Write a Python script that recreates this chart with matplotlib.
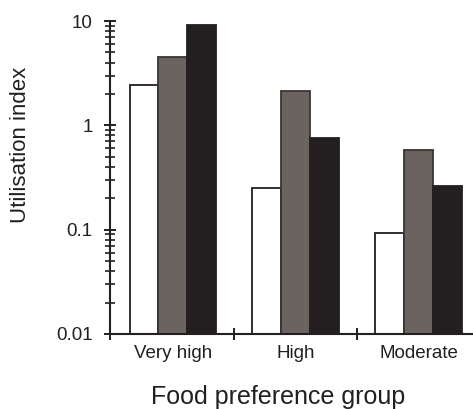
import numpy as np
import matplotlib
matplotlib.use("Agg")
import matplotlib.pyplot as plt
from matplotlib.ticker import LogLocator, NullFormatter

plt.rcParams['font.family'] = ['Liberation Sans', 'DejaVu Sans']

groups = ["Very high", "High", "Moderate"]
white_vals = [2.44, 0.253, 0.092]
grey_vals = [4.5, 2.14, 0.577]
black_vals = [9.2, 0.76, 0.264]

series = [white_vals, grey_vals, black_vals]
colours = ["white", "#6b6360", "#231f20"]
edges = ["#231f20", "#3a3433", "#231f20"]

fig = plt.figure(figsize=(4.73, 4.09), dpi=100)
ax = fig.add_axes([110/473, 1-334/409, (473-110)/473, (334-21)/409])

x = np.arange(len(groups))
w = 0.236
for i, vals in enumerate(series):
    ax.bar(x + (i-1)*w, vals, w, color=colours[i], edgecolor=edges[i],
           linewidth=1.3, zorder=2)

ax.set_yscale('log')
ax.set_ylim(0.01, 10)
ax.set_xlim(-0.513, 2.444)

ax.yaxis.set_minor_locator(LogLocator(base=10, subs=np.arange(2, 10), numticks=10))
ax.yaxis.set_minor_formatter(NullFormatter())
ax.set_yticks([0.01, 0.1, 1, 10])
ax.set_yticklabels(["0.01", "0.1", "1", "10"])

ax.set_xticks([-0.513, 0.5, 1.5])
ax.set_xticklabels(["", "", ""])
ax.set_xticks(x, minor=True)
ax.set_xticklabels(groups, minor=True)

for s in ['top', 'right']:
    ax.spines[s].set_visible(False)
for s in ['left', 'bottom']:
    ax.spines[s].set_linewidth(1.5)
    ax.spines[s].set_color('#231f20')

ax.tick_params(axis='y', which='major', direction='inout', length=9, width=1.4,
               labelsize=13.5, pad=8, colors='#231f20', labelcolor='#231f20')
ax.tick_params(axis='y', which='minor', direction='inout', length=7.5, width=1.2,
               colors='#231f20')
ax.tick_params(axis='x', which='major', direction='inout', length=9, width=1.4,
               colors='#231f20')
ax.tick_params(axis='x', which='minor', length=0, labelsize=13.5, pad=8,
               labelcolor='#231f20')

fig.text(20/473, 1-145/409, "Utilisation index", rotation=90, ha='center',
         va='center', fontsize=16, color='#231f20')
fig.text(278/473, 1-397/409, "Food preference group", ha='center',
         va='center', fontsize=18, color='#231f20')

fig.savefig("out.png", dpi=100)
